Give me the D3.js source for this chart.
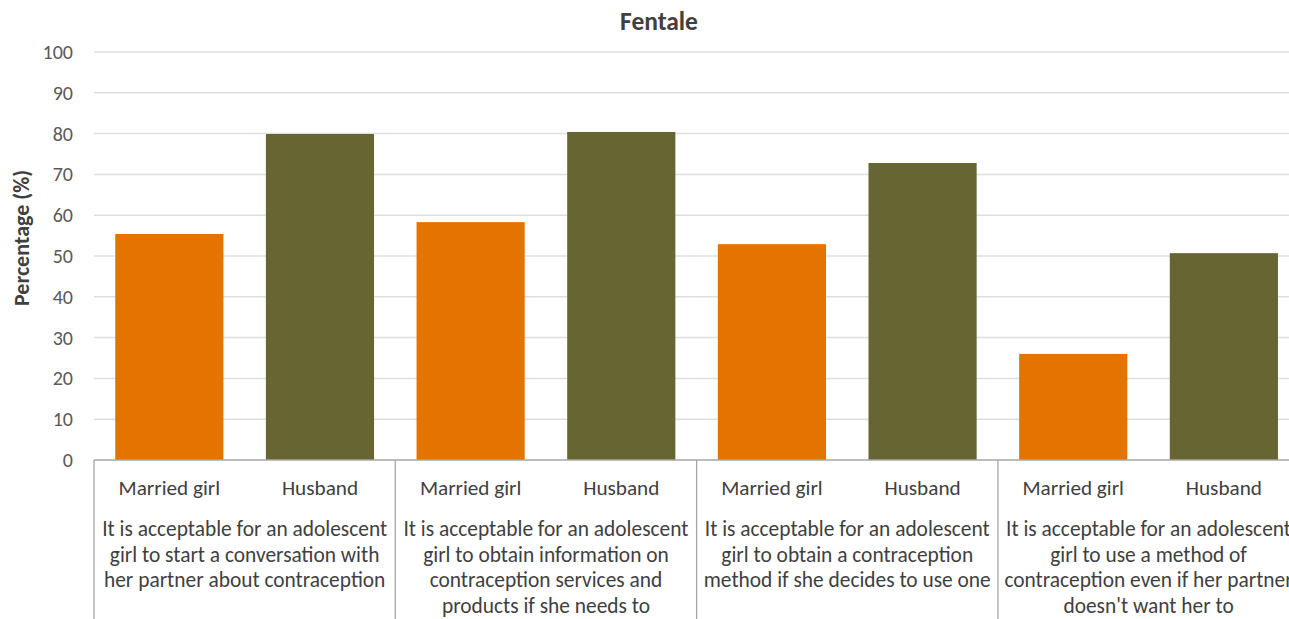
<!DOCTYPE html>
<html><head><meta charset="utf-8">
<script src="https://cdn.jsdelivr.net/npm/d3@7"></script>
<style>body{margin:0;background:#fff;overflow:hidden}</style>
</head><body><svg id="c" width="1289" height="619"></svg>
<script>
const title = "Fentale";
const yTitle = "Percentage (%)";
const groups = [
  ["It is acceptable for an adolescent","girl to start a conversation with","her partner about contraception"],
  ["It is acceptable for an adolescent","girl to obtain information on","contraception services and","products if she needs to"],
  ["It is acceptable for an adolescent","girl to obtain a contraception","method if she decides to use one"],
  ["It is acceptable for an adolescent","girl to use a method of","contraception even if her partner","doesn't want her to"]
];
const series = ["Married girl","Husband"];
const marriedGirl = [55.4, 58.3, 52.9, 26.0];
const husband = [79.9, 80.4, 72.8, 50.7];
const yTicks = [0,10,20,30,40,50,60,70,80,90,100];
const colors = ["#e57300","#676633"];

const FONT = "Carlito, Calibri, 'Liberation Sans', sans-serif";
const svg = d3.select("#c").style("font-family", FONT);
const x0 = 94, gw = 301.3;
const gx = d3.scaleBand().domain(d3.range(groups.length)).range([x0, x0+gw*groups.length]).paddingInner(0).paddingOuter(0);
const sx = d3.scaleBand().domain(series).range([0, gx.bandwidth()]).paddingInner(0.282).paddingOuter(0.141);
const y = d3.scaleLinear().domain([0,100]).range([460,52]);

// gridlines
svg.append("g").selectAll("line").data(yTicks.filter(d=>d>0)).join("line")
  .attr("x1",x0).attr("x2",1289).attr("y1",d=>y(d)).attr("y2",d=>y(d))
  .attr("stroke","#dedede").attr("stroke-width",1.5);

// y axis labels
const ya = svg.append("g").attr("transform",`translate(${x0},0)`).call(d3.axisLeft(y).tickValues(yTicks).tickSize(0).tickPadding(21));
ya.select(".domain").remove();
ya.selectAll("text").style("font-family",FONT).style("font-size","20px").attr("fill","#595959");

// bars
const vals = [marriedGirl, husband];
series.forEach((s,si)=>{
  svg.append("g").selectAll("rect").data(vals[si]).join("rect")
    .attr("x",(d,i)=>gx(i)+sx(s)).attr("width",sx.bandwidth())
    .attr("y",d=>y(d)).attr("height",d=>y(0)-y(d)).attr("fill",colors[si]);
});

// x axis line and separators
svg.append("line").attr("x1",x0).attr("x2",1289).attr("y1",y(0)).attr("y2",y(0)).attr("stroke","#a6a6a6").attr("stroke-width",1.3);
svg.append("g").selectAll("line").data(d3.range(groups.length+1)).join("line")
  .attr("x1",i=>x0+i*gw).attr("x2",i=>x0+i*gw).attr("y1",y(0)).attr("y2",619)
  .attr("stroke","#a6a6a6").attr("stroke-width",1.3);

// series labels
groups.forEach((g,i)=>{
  series.forEach(s=>{
    svg.append("text").attr("x",gx(i)+sx(s)+sx.bandwidth()/2).attr("y",495)
      .attr("text-anchor","middle").style("font-size","21.2px").attr("fill","#404040").text(s);
  });
  const t = svg.append("text").attr("text-anchor","middle").style("font-size","21.4px").attr("fill","#404040");
  g.forEach((line,li)=>{
    t.append("tspan").attr("x",gx(i)+gx.bandwidth()/2).attr("y",536+li*25.7).text(line);
  });
});

// title
svg.append("text").attr("x",659).attr("y",30).attr("text-anchor","middle").style("font-size","25.5px").style("font-weight","bold").attr("fill","#404040").text(title);
svg.append("text").attr("transform","translate(29,238) rotate(-90)").attr("text-anchor","middle").style("font-size","22px").style("font-weight","bold").attr("fill","#404040").text(yTitle);
</script></body></html>
